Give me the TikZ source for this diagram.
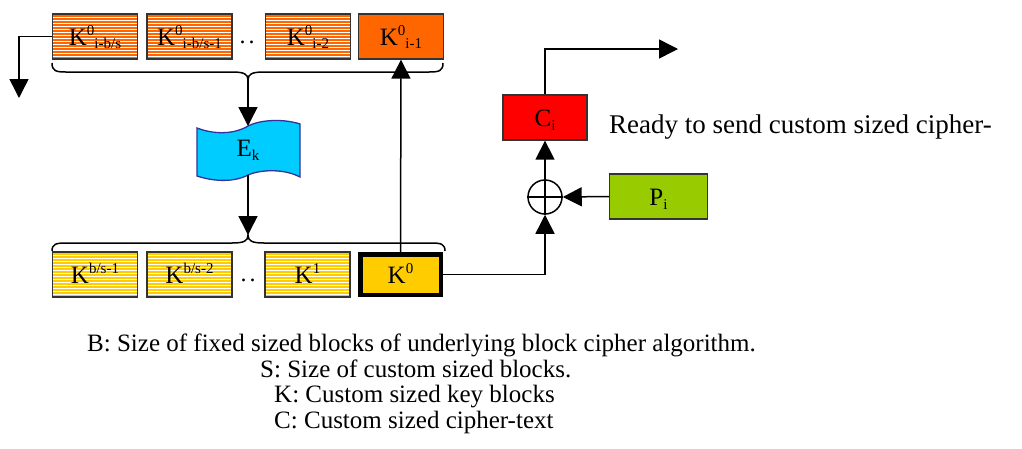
\documentclass[tikz,border=0pt]{standalone}
\usepackage{fontspec}
\setmainfont{Liberation Serif}
\usetikzlibrary{arrows.meta}
\definecolor{korange}{HTML}{FF6600}
\definecolor{kgold}{HTML}{FFCC00}
\definecolor{cred}{HTML}{FF0000}
\definecolor{pgreen}{HTML}{99CC00}
\definecolor{ecyan}{HTML}{00CCFF}
\definecolor{eblue}{HTML}{333399}
\newcommand\sz[1]{\fontsize{#1}{#1}\selectfont}
\newcommand\KSS[2]{K\raisebox{10pt}{\sz{15}#1}\raisebox{-3pt}{\sz{15}#2}}
\newcommand\KSP[1]{K\raisebox{10pt}{\sz{15}#1}}
\begin{document}
\begin{tikzpicture}[x=1pt,y=-1pt,
  kbox/.style={draw=black!80,line width=1.3pt,minimum width=85pt,minimum height=45pt,inner sep=0pt,
    text height=17pt,text depth=0pt,font=\sz{25}},
  stripes/.style={kbox,path picture={%
      \foreach \k in {2,5,...,44}
        \draw[#1,line width=1.1pt] ([yshift=-\k pt]path picture bounding box.north west)
          -- ([yshift=-\k pt]path picture bounding box.north east);}},
  ostripe/.style={stripes=korange},
  ystripe/.style={stripes=kgold},
  conn/.style={line width=1.5pt,line join=miter},
  arr/.style={conn,-{Triangle[length=19pt,width=19pt]}},
  brace/.style={line width=1.5pt},
  dotsnode/.style={font=\sz{24},inner sep=0pt},
  legend/.style={anchor=base west,font=\sz{25},inner sep=0pt}
]
\useasboundingbox (0,0) rectangle (1022,448);

% top row
\node[ostripe] (t1) at (95,36.5) {\KSS{0}{i-b/s}};
\node[ostripe] (t2) at (189.5,36.5) {\KSS{0}{i-b/s-1}};
\node[dotsnode] (td) at (247,42) {.\hspace{3pt}.};
\node[ostripe] (t3) at (308,36.5) {\KSS{0}{i-2}};
\node[kbox,fill=korange] (t4) at (401,36.5) {\KSS{0}{i-1}};

% bottom row
\node[ystripe] (b1) at (95,274.5) {\KSP{b/s-1}};
\node[ystripe] (b2) at (189.5,274.5) {\KSP{b/s-2}};
\node[dotsnode] (bd) at (248,280) {.\hspace{3pt}.};
\node[ystripe] (b3) at (307.5,274.5) {\KSP{1}};
\node[kbox,fill=kgold,draw=black,line width=4.5pt,minimum width=80.5pt,minimum height=40.5pt] (b4) at (400.5,274.5) {\KSP{0}};

% braces
\coordinate (tbtip) at (248,80);
\draw[brace] (52,63) .. controls (52,71) and (56,72) .. (66,72) -- (232,72)
  .. controls (244,72) and (248,74) .. (tbtip)
  .. controls (248,74) and (252,72) .. (264,72) -- (429,72)
  .. controls (439,72) and (443,71) .. (443,63);
\coordinate (bbtip) at (248,235);
\draw[brace] (52,251) .. controls (52,244) and (56,243) .. (66,243) -- (232,243)
  .. controls (244,243) and (248,241) .. (bbtip)
  .. controls (248,241) and (252,243) .. (264,243) -- (431,243)
  .. controls (441,243) and (445,244) .. (445,251);

% E_k tape shape
\draw[eblue,line width=1.3pt,fill=ecyan] (197,128) .. controls (215,135) and (235,134) .. (248,126)
  .. controls (262,119) and (285,119) .. (300,124) -- (300,177)
  .. controls (285,169) and (262,169) .. (248,175)
  .. controls (235,182) and (215,182) .. (197,176) -- cycle;
\coordinate (ektop) at (248,126);
\coordinate (ekbot) at (248,175);
\node[font=\sz{25},inner sep=0pt] (ek) at (248,150) {E\raisebox{-4pt}{\sz{15}k}};

% right side
\node[kbox,fill=cred,minimum width=84pt] (ci) at (545,117.5) {C\raisebox{-4pt}{\sz{15}i}};
\node[kbox,fill=pgreen,minimum width=98pt] (pi) at (658.5,196.5) {P\raisebox{-4pt}{\sz{15}i}};
\node[circle,draw,line width=1.5pt,minimum size=34pt,inner sep=0pt] (xo) at (545,197) {};
\draw[conn] (xo.north) -- (xo.south) (xo.west) -- (xo.east);

\node[anchor=base west,font=\sz{27},inner sep=0pt] (ready) at (609,133) {Ready to send custom sized cipher-};

% connectors
\coordinate (lc) at (19,36.5);
\coordinate (ld) at (19,98);
\draw[arr] (t1.west) -- (lc) -- (ld);
\draw[arr] (tbtip) -- (ektop);
\draw[arr] (ekbot) -- (bbtip);
\draw[arr] (b4.north) -- (t4.south);
\coordinate (kc) at (545,274.5);
\draw[arr] (b4.east) -- (kc) -- (xo.south);
\draw[arr] (pi.west) -- (xo.east);
\draw[arr] (xo.north) -- (ci.south);
\coordinate (cc) at (545,49);
\coordinate (ce) at (678,49);
\draw[arr] (ci.north) -- (cc) -- (ce);

% legend
\node[legend] (l1) at (87,351) {B: Size of fixed sized blocks of underlying block cipher algorithm.};
\node[legend] (l2) at (260,377) {S: Size of custom sized blocks.};
\node[legend] (l3) at (274,402) {K: Custom sized key blocks};
\node[legend] (l4) at (274,428) {C: Custom sized cipher-text};
\end{tikzpicture}
\end{document}
